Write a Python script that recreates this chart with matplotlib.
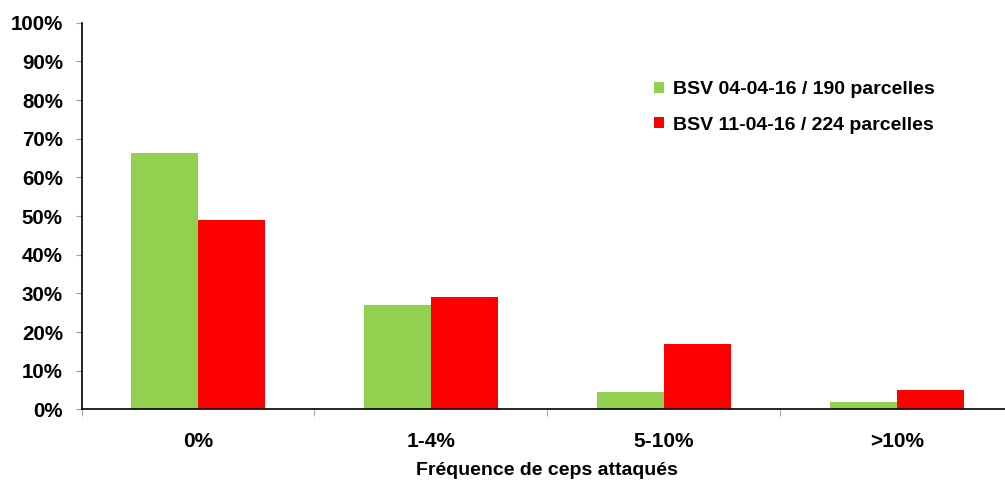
import matplotlib.pyplot as plt
import numpy as np

plt.rcParams['font.family'] = ['Liberation Sans', 'DejaVu Sans']
plt.rcParams['font.weight'] = 'bold'

categories = ['0%', '1-4%', '5-10%', '>10%']
bsv_0404 = [66.3, 27.0, 4.6, 2.0]
bsv_1104 = [49.0, 29.0, 16.9, 5.0]
labels = ['BSV 04-04-16 / 190 parcelles', 'BSV 11-04-16 / 224 parcelles']

fig = plt.figure(figsize=(10.05, 4.82), dpi=100)
ax = fig.add_axes([0.0811, 0.1508, 0.927, 0.802])

x = np.arange(len(categories))
w = 0.288
ax.bar(x - w / 2, bsv_0404, w, color='#92D050', label=labels[0])
ax.bar(x + w / 2, bsv_1104, w, color='#FF0000', label=labels[1])

ax.set_xlim(-0.5, len(categories) - 0.5)
ax.set_ylim(0, 100)
ax.set_yticks(range(0, 101, 10))
ax.set_yticklabels([f'{v}%' for v in range(0, 101, 10)], fontsize=14.8, fontweight='bold')
ax.set_xticks(x)
ax.set_xticklabels(categories, fontsize=15, fontweight='bold')
ax.set_xticks(np.arange(-0.5, len(categories), 1), minor=True)
ax.tick_params(axis='x', which='major', length=0, pad=16)
ax.tick_params(axis='x', which='minor', length=5, color='#999999', direction='out')
ax.tick_params(axis='y', length=4.5, color='#999999', pad=9)

for s in ['top', 'right']:
    ax.spines[s].set_visible(False)
for s in ['left', 'bottom']:
    ax.spines[s].set_color('black')
    ax.spines[s].set_linewidth(1.2)

ax.set_xlabel('Fréquence de ceps attaqués', fontsize=14, fontweight='bold', labelpad=8)

ax.legend(loc='upper left', bbox_to_anchor=(0.596, 0.894), frameon=False,
          prop={'size': 14, 'weight': 'bold'}, handlelength=0.5, handleheight=0.5,
          handletextpad=0.45, labelspacing=0.95)

fig.savefig('out.png', dpi=100)
